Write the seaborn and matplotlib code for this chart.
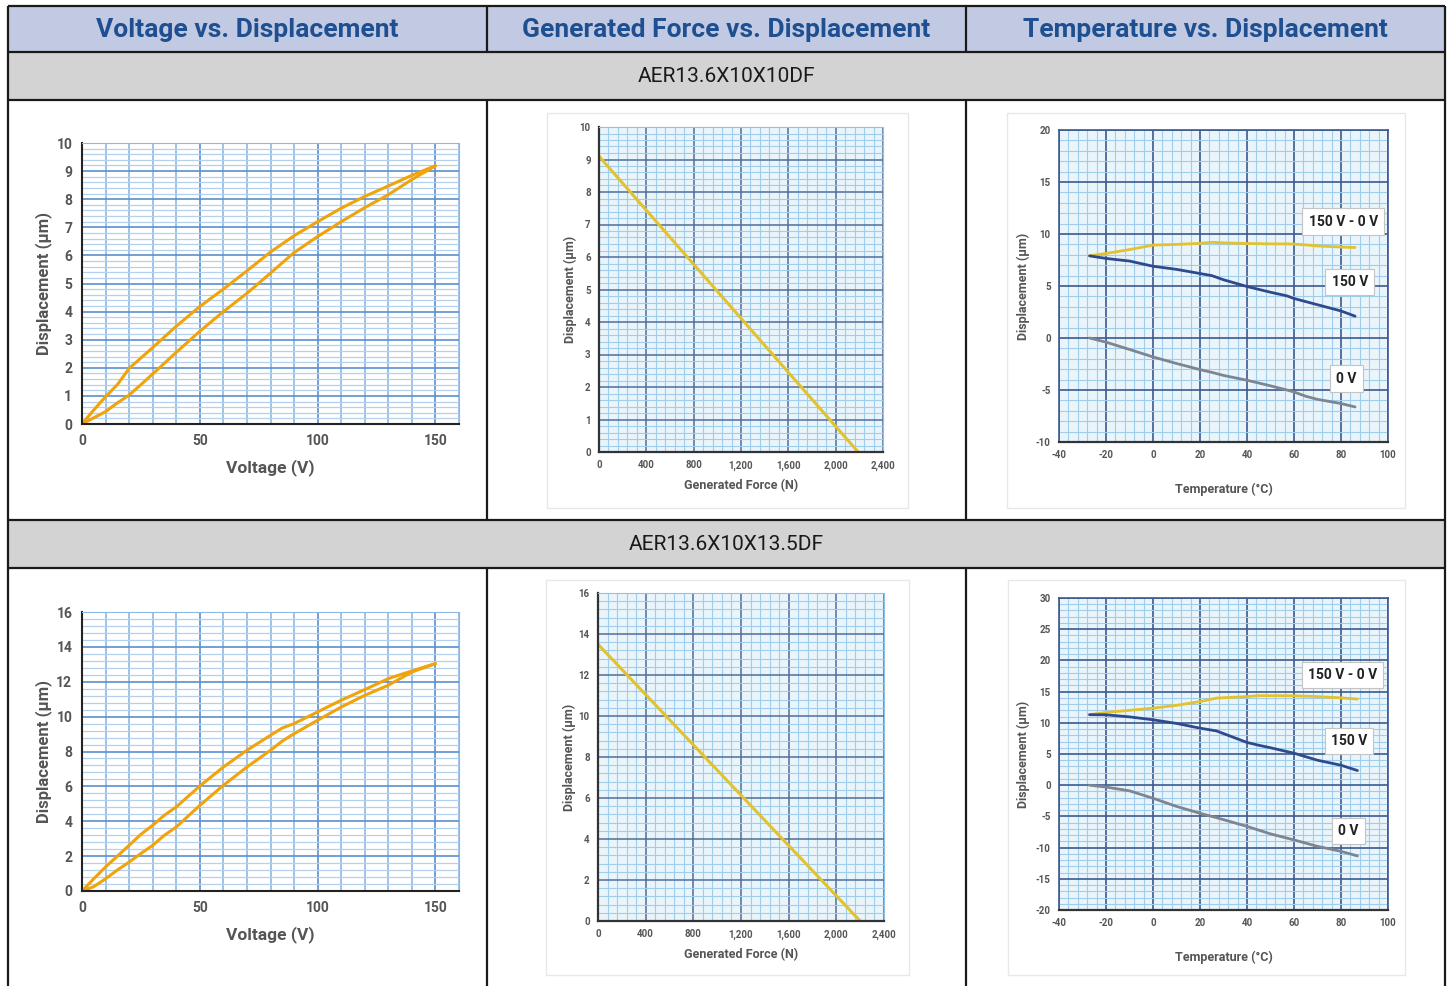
import matplotlib
matplotlib.use('Agg')
import matplotlib.pyplot as plt
import seaborn as sns
from matplotlib.patches import Rectangle
from matplotlib.ticker import MultipleLocator, FixedLocator, FuncFormatter

# ---------------- data ----------------
headers = ['Voltage vs. Displacement', 'Generated Force vs. Displacement', 'Temperature vs. Displacement']
models = ['AER13.6X10X10DF', 'AER13.6X10X13.5DF']

# voltage vs displacement (hysteresis loops)
volt_1 = [0, 5, 10, 15, 20, 25, 30, 40, 50, 60, 70, 80, 90, 100, 110, 120, 130, 140, 150]
disp_1_down = [0, 0.5, 0.97, 1.4, 1.98, 2.35, 2.72, 3.48, 4.18, 4.8, 5.45, 6.12, 6.7, 7.2, 7.68, 8.1, 8.47, 8.85, 9.19]
disp_1_up = [0, 0.22, 0.44, 0.75, 1.03, 1.4, 1.78, 2.55, 3.3, 4.0, 4.65, 5.37, 6.1, 6.67, 7.2, 7.7, 8.16, 8.7, 9.19]

volt_2 = [0, 5, 10, 15, 20, 25, 30, 35, 40, 50, 60, 70, 80, 85, 90, 100, 110, 120, 130, 140, 150]
disp_2_down = [0, 0.7, 1.38, 2.0, 2.62, 3.25, 3.77, 4.35, 4.82, 6.02, 7.11, 8.07, 8.93, 9.35, 9.6, 10.27, 10.94,
               11.55, 12.18, 12.62, 13.04]
disp_2_up = [0, 0.25, 0.7, 1.2, 1.66, 2.15, 2.62, 3.2, 3.67, 4.91, 6.06, 7.11, 8.07, 8.6, 9.02, 9.79, 10.55,
             11.22, 11.8, 12.56, 13.04]

# generated force vs displacement
force_1 = [0, 2190]
force_disp_1 = [9.1, 0]
force_2 = [0, 2200]
force_disp_2 = [13.5, 0]

# temperature vs displacement
temp_1 = [-27, -20, -10, 0, 10, 20, 25, 30, 40, 50, 57, 60, 65, 70, 80, 86]
t1_diff = [7.9, 8.13, 8.5, 8.93, 9.0, 9.1, 9.2, 9.15, 9.09, 9.05, 9.05, 9.03, 8.95, 8.85, 8.75, 8.7]
t1_150v = [7.9, 7.65, 7.4, 6.9, 6.6, 6.2, 6.0, 5.6, 4.95, 4.4, 4.05, 3.8, 3.5, 3.2, 2.6, 2.1]
t1_0v = [0, -0.4, -1.1, -1.82, -2.45, -3.04, -3.3, -3.6, -4.06, -4.6, -5.0, -5.19, -5.6, -5.9, -6.3, -6.63]

temp_2 = [-27, -20, -10, 0, 10, 20, 27, 40, 45, 50, 60, 70, 80, 87]
t2_diff = [11.3, 11.66, 12.0, 12.35, 12.8, 13.4, 13.96, 14.2, 14.35, 14.35, 14.33, 14.2, 14.0, 13.8]
t2_150v = [11.3, 11.28, 10.95, 10.48, 9.9, 9.14, 8.7, 6.85, 6.4, 6.0, 5.13, 4.0, 3.2, 2.35]
t2_0v = [0, -0.3, -0.9, -2.09, -3.4, -4.5, -5.2, -6.6, -7.2, -7.8, -8.77, -9.8, -10.6, -11.34]

temp_labels = ['150 V - 0 V', '150 V', '0 V']
temp_label_pos_1 = [(81, 11.2), (83.7, 5.4), (82.3, -3.9)]
temp_label_pos_2 = [(80.6, 17.7), (83.4, 7.1), (83, -7.3)]

# ---------------- style ----------------
sns.set_style('white')
COND = ['Liberation Sans Narrow', 'Roboto']
plt.rcParams['font.family'] = COND
plt.rcParams['font.weight'] = 'bold'
plt.rcParams['axes.labelweight'] = 'bold'
plt.rcParams['axes.unicode_minus'] = False

ORANGE = '#f0a30a'
YELLOW = '#e2c22e'
NAVY = '#2e4a8c'
GRAY = '#7d8591'
HEAD_BG = '#c2c9e2'
HEAD_TXT = '#1d4f91'
SUB_BG = '#d3d3d3'
LABEL_C = '#555555'

W, H = 1450, 986
fig = plt.figure(figsize=(W / 100, H / 100), dpi=100)


def px_axes(l, t, r, b):
    return fig.add_axes([l / W, 1 - b / H, (r - l) / W, (b - t) / H])


# ---------------- table frame ----------------
bg = fig.add_axes([0, 0, 1, 1])
bg.set_xlim(0, W)
bg.set_ylim(H, 0)
bg.axis('off')
L, R = 8, 1445
bg.add_patch(Rectangle((L, 6), R - L, 46, fc=HEAD_BG, ec='none'))
bg.add_patch(Rectangle((L, 52), R - L, 48, fc=SUB_BG, ec='none'))
bg.add_patch(Rectangle((L, 520), R - L, 48, fc=SUB_BG, ec='none'))
# faint frames of the pasted chart images
for (x0, y0, x1, y1) in [(547, 113, 908, 508), (1007, 113, 1405, 508),
                         (546, 580, 909, 975), (1008, 580, 1405, 975)]:
    bg.add_patch(Rectangle((x0, y0), x1 - x0, y1 - y0, fc='white', ec='#e8e8e8', lw=1))
bg.hlines([6, 52, 100, 520, 568], L, R, color='#1a1a1a', lw=1.6)
bg.vlines([L, R], 6, H, color='#1a1a1a', lw=1.6)
for xc in [487, 966]:
    bg.vlines(xc, 6, 52, color='#1a1a1a', lw=1.6)
    bg.vlines(xc, 100, 520, color='#1a1a1a', lw=1.6)
    bg.vlines(xc, 568, H, color='#1a1a1a', lw=1.6)

col_centers = [(L + 487) / 2, (487 + 966) / 2, (966 + R) / 2]
for xc, txt in zip(col_centers, headers):
    bg.text(xc, 30, txt, ha='center', va='center', fontsize=19, fontweight='bold', color=HEAD_TXT)
for yc, txt in zip([77, 545], models):
    bg.text((L + R) / 2, yc, txt, ha='center', va='center', fontsize=15, fontweight='normal', color='#1a1a1a')


# ---------------- panels ----------------
def grid_style(ax, minor_c, major_c, minor_lw, major_lw):
    ax.set_axisbelow(True)
    ax.grid(True, which='minor', color=minor_c, lw=minor_lw)
    ax.grid(True, which='major', color=major_c, lw=major_lw)
    ax.tick_params(which='both', length=0)


def bold_ticks(ax):
    for lbl in ax.get_xticklabels() + ax.get_yticklabels():
        lbl.set_fontweight('bold')


def voltage_panel(ax, volt, d_up, d_down, ymax, ystep):
    sns.lineplot(x=volt, y=d_up, ax=ax, color=ORANGE, lw=2.2, sort=False)
    sns.lineplot(x=volt, y=d_down, ax=ax, color=ORANGE, lw=2.2, sort=False)
    ax.set_xlim(0, 160)
    ax.set_ylim(0, ymax)
    ax.xaxis.set_major_locator(FixedLocator([0, 50, 100, 150]))
    ax.xaxis.set_minor_locator(MultipleLocator(10))
    ax.yaxis.set_major_locator(MultipleLocator(ystep))
    ax.yaxis.set_minor_locator(MultipleLocator(ystep / 5))
    ax.set_facecolor('white')
    grid_style(ax, '#b3d1ee', '#5b8fcc', 0.9, 1.2)
    ax.grid(True, which='minor', axis='x', color='#8db8e4', lw=1.2)
    for s in ['top', 'right']:
        ax.spines[s].set_color('#8db8e4')
    for s in ['left', 'bottom']:
        ax.spines[s].set_color('#222222')
        ax.spines[s].set_linewidth(1.5)
    ax.tick_params(labelsize=10, colors=LABEL_C, pad=7)
    bold_ticks(ax)
    ax.set_xlabel('Voltage (V)', fontsize=12.5, color=LABEL_C, labelpad=8)
    ax.set_ylabel('Displacement (µm)', fontsize=12, color=LABEL_C, labelpad=3)


def force_panel(ax, force, disp, ymax, ystep):
    sns.lineplot(x=force, y=disp, ax=ax, color=YELLOW, lw=2.2)
    ax.set_xlim(0, 2400)
    ax.set_ylim(0, ymax)
    ax.xaxis.set_major_locator(MultipleLocator(400))
    ax.xaxis.set_minor_locator(MultipleLocator(80))
    ax.xaxis.set_major_formatter(FuncFormatter(lambda v, p: f'{int(v):,}'))
    ax.yaxis.set_major_locator(MultipleLocator(ystep))
    ax.yaxis.set_minor_locator(MultipleLocator(ystep / 5))
    ax.set_facecolor('#eaf5fb')
    grid_style(ax, '#9fcdea', '#4f6d98', 0.8, 1.1)
    for s in ['top', 'right']:
        ax.spines[s].set_color('#8fc3e6')
    for s in ['left', 'bottom']:
        ax.spines[s].set_color('#333333')
        ax.spines[s].set_linewidth(1.6)
    ax.tick_params(labelsize=7, colors=LABEL_C, pad=6)
    bold_ticks(ax)
    ax.set_xlabel('Generated Force (N)', fontsize=9, color=LABEL_C, labelpad=6)
    ax.set_ylabel('Displacement (µm)', fontsize=9, color=LABEL_C, labelpad=2)


def temp_panel(ax, temp, diff, v150, v0, ymin, ymax, label_pos):
    sns.lineplot(x=temp, y=diff, ax=ax, color=YELLOW, lw=2.0)
    sns.lineplot(x=temp, y=v150, ax=ax, color=NAVY, lw=2.0)
    sns.lineplot(x=temp, y=v0, ax=ax, color=GRAY, lw=2.0)
    ax.set_xlim(-40, 100)
    ax.set_ylim(ymin, ymax)
    ax.xaxis.set_major_locator(MultipleLocator(20))
    ax.xaxis.set_minor_locator(MultipleLocator(4))
    ax.yaxis.set_major_locator(MultipleLocator(5))
    ax.yaxis.set_minor_locator(MultipleLocator(1))
    ax.set_facecolor('#eaf5fb')
    grid_style(ax, '#9fcdea', '#3d5a8e', 0.8, 1.2)
    for s in ax.spines.values():
        s.set_color('#3d5a8e')
        s.set_linewidth(1.2)
    ax.spines['bottom'].set_color('#333333')
    ax.spines['bottom'].set_linewidth(1.6)
    ax.tick_params(labelsize=7, colors=LABEL_C, pad=6)
    bold_ticks(ax)
    ax.set_xlabel('Temperature (°C)', fontsize=9, color=LABEL_C, labelpad=16)
    ax.set_ylabel('Displacement (µm)', fontsize=9, color=LABEL_C, labelpad=4)
    for txt, (tx, ty) in zip(temp_labels, label_pos):
        ax.text(tx, ty, txt, ha='center', va='center', fontsize=10, fontweight='bold', color='#222222',
                bbox=dict(boxstyle='square,pad=0.45', fc='white', ec='#c4c4c4', lw=0.8), zorder=5)


voltage_panel(px_axes(82, 143, 459, 424), volt_1, disp_1_up, disp_1_down, 10, 1)
force_panel(px_axes(599, 127, 883, 452), force_1, force_disp_1, 10, 1)
temp_panel(px_axes(1059, 130, 1388, 442), temp_1, t1_diff, t1_150v, t1_0v, -10, 20, temp_label_pos_1)

voltage_panel(px_axes(82, 612, 459, 891), volt_2, disp_2_up, disp_2_down, 16, 2)
force_panel(px_axes(598, 593, 884, 921), force_2, force_disp_2, 16, 2)
temp_panel(px_axes(1059, 598, 1388, 910), temp_2, t2_diff, t2_150v, t2_0v, -20, 30, temp_label_pos_2)

fig.savefig('out.png', dpi=100)
